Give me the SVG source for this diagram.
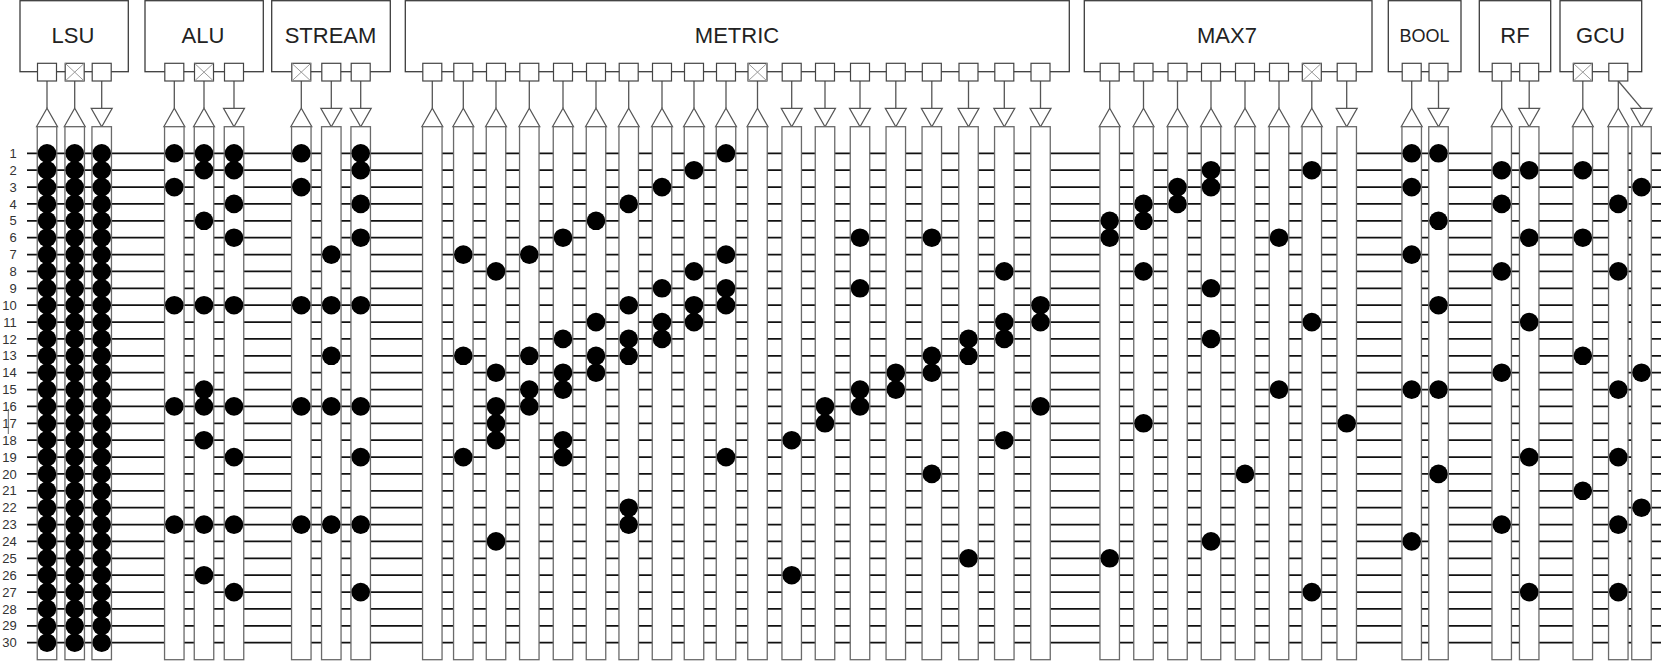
<svg xmlns="http://www.w3.org/2000/svg" width="1661" height="661" viewBox="0 0 1661 661">
<style>
.box{fill:#fff;stroke:#3c3c3c;stroke-width:1.3}
.t{font-family:"Liberation Sans",Arial,sans-serif;font-size:22px;fill:#222;text-anchor:middle}
.tb{font-family:"Liberation Sans",Arial,sans-serif;font-size:18px;fill:#222;text-anchor:middle}
.n{font-family:"Liberation Sans",Arial,sans-serif;font-size:13px;fill:#333;text-anchor:end}
.row line{stroke:#111;stroke-width:1.8}
.stub line{stroke:#555;stroke-width:1.3}
.dots circle{fill:#000}
</style>
<defs>
<rect id="bar" x="-9.75" y="126.7" width="19.5" height="533" fill="#fff" stroke="#6a6a6a" stroke-width="1.3"/>
<rect id="p" x="-9.5" y="63.3" width="19" height="17.7" fill="#fff" stroke="#444" stroke-width="1.2"/>
<g id="xp"><use href="#p"/><path d="M-9.5,63.3L9.5,81M9.5,63.3L-9.5,81" stroke="#999" stroke-width="1" fill="none"/></g>
<polygon id="up" points="-10.5,126.7 0,108.3 10.5,126.7" fill="#fff" stroke="#555" stroke-width="1.2"/>
<polygon id="dn" points="-10.5,108.3 10.5,108.3 0,126.7" fill="#fff" stroke="#555" stroke-width="1.2"/>
<g id="c30" fill="#000">
<circle cy="153.3" r="9.3"/><circle cy="170.2" r="9.3"/><circle cy="187.1" r="9.3"/><circle cy="203.9" r="9.3"/><circle cy="220.8" r="9.3"/><circle cy="237.7" r="9.3"/><circle cy="254.6" r="9.3"/><circle cy="271.4" r="9.3"/><circle cy="288.3" r="9.3"/><circle cy="305.2" r="9.3"/><circle cy="322.1" r="9.3"/><circle cy="338.9" r="9.3"/><circle cy="355.8" r="9.3"/><circle cy="372.7" r="9.3"/><circle cy="389.6" r="9.3"/><circle cy="406.4" r="9.3"/><circle cy="423.3" r="9.3"/><circle cy="440.2" r="9.3"/><circle cy="457.1" r="9.3"/><circle cy="473.9" r="9.3"/><circle cy="490.8" r="9.3"/><circle cy="507.7" r="9.3"/><circle cy="524.6" r="9.3"/><circle cy="541.4" r="9.3"/><circle cy="558.3" r="9.3"/><circle cy="575.2" r="9.3"/><circle cy="592.1" r="9.3"/><circle cy="608.9" r="9.3"/><circle cy="625.8" r="9.3"/><circle cy="642.7" r="9.3"/>
</g>
</defs>

<g id="row-labels">
<text class="n" x="16.7" y="157.9">1</text><text class="n" x="16.7" y="174.8">2</text><text class="n" x="16.7" y="191.7">3</text><text class="n" x="16.7" y="208.5">4</text><text class="n" x="16.7" y="225.4">5</text><text class="n" x="16.7" y="242.3">6</text><text class="n" x="16.7" y="259.2">7</text><text class="n" x="16.7" y="276">8</text><text class="n" x="16.7" y="292.9">9</text><text class="n" x="16.7" y="309.8">10</text><text class="n" x="16.7" y="326.7">11</text><text class="n" x="16.7" y="343.5">12</text><text class="n" x="16.7" y="360.4">13</text><text class="n" x="16.7" y="377.3">14</text><text class="n" x="16.7" y="394.2">15</text><text class="n" x="16.7" y="411">16</text><text class="n" x="16.7" y="427.9">17</text><text class="n" x="16.7" y="444.8">18</text><text class="n" x="16.7" y="461.7">19</text><text class="n" x="16.7" y="478.5">20</text><text class="n" x="16.7" y="495.4">21</text><text class="n" x="16.7" y="512.3">22</text><text class="n" x="16.7" y="529.2">23</text><text class="n" x="16.7" y="546">24</text><text class="n" x="16.7" y="562.9">25</text><text class="n" x="16.7" y="579.8">26</text><text class="n" x="16.7" y="596.7">27</text><text class="n" x="16.7" y="613.5">28</text><text class="n" x="16.7" y="630.4">29</text><text class="n" x="16.7" y="647.3">30</text>
<line x1="8.3" y1="409" x2="8.3" y2="434" stroke="#666" stroke-width="1"/>
</g>

<g id="connectors">
<g class="row">
<line x1="27" y1="153.3" x2="1661" y2="153.3"/><line x1="27" y1="170.2" x2="1661" y2="170.2"/><line x1="27" y1="187.1" x2="1661" y2="187.1"/><line x1="27" y1="203.9" x2="1661" y2="203.9"/><line x1="27" y1="220.8" x2="1661" y2="220.8"/><line x1="27" y1="237.7" x2="1661" y2="237.7"/><line x1="27" y1="254.6" x2="1661" y2="254.6"/><line x1="27" y1="271.4" x2="1661" y2="271.4"/><line x1="27" y1="288.3" x2="1661" y2="288.3"/><line x1="27" y1="305.2" x2="1661" y2="305.2"/><line x1="27" y1="322.1" x2="1661" y2="322.1"/><line x1="27" y1="338.9" x2="1661" y2="338.9"/><line x1="27" y1="355.8" x2="1661" y2="355.8"/><line x1="27" y1="372.7" x2="1661" y2="372.7"/><line x1="27" y1="389.6" x2="1661" y2="389.6"/><line x1="27" y1="406.4" x2="1661" y2="406.4"/><line x1="27" y1="423.3" x2="1661" y2="423.3"/><line x1="27" y1="440.2" x2="1661" y2="440.2"/><line x1="27" y1="457.1" x2="1661" y2="457.1"/><line x1="27" y1="473.9" x2="1661" y2="473.9"/><line x1="27" y1="490.8" x2="1661" y2="490.8"/><line x1="27" y1="507.7" x2="1661" y2="507.7"/><line x1="27" y1="524.6" x2="1661" y2="524.6"/><line x1="27" y1="541.4" x2="1661" y2="541.4"/><line x1="27" y1="558.3" x2="1661" y2="558.3"/><line x1="27" y1="575.2" x2="1661" y2="575.2"/><line x1="27" y1="592.1" x2="1661" y2="592.1"/><line x1="27" y1="608.9" x2="1661" y2="608.9"/><line x1="27" y1="625.8" x2="1661" y2="625.8"/><line x1="27" y1="642.7" x2="1661" y2="642.7"/>
</g>
<g class="stub">
<line x1="47" y1="81" x2="47" y2="108.3"/><line x1="74.7" y1="81" x2="74.7" y2="108.3"/><line x1="101.7" y1="81" x2="101.7" y2="108.3"/>
<line x1="174.3" y1="81" x2="174.3" y2="108.3"/><line x1="204" y1="81" x2="204" y2="108.3"/><line x1="234" y1="81" x2="234" y2="108.3"/>
<line x1="301.3" y1="81" x2="301.3" y2="108.3"/><line x1="331.3" y1="81" x2="331.3" y2="108.3"/><line x1="360.7" y1="81" x2="360.7" y2="108.3"/>
<line x1="432.3" y1="81" x2="432.3" y2="108.3"/><line x1="463.3" y1="81" x2="463.3" y2="108.3"/><line x1="496" y1="81" x2="496" y2="108.3"/><line x1="529.3" y1="81" x2="529.3" y2="108.3"/><line x1="563" y1="81" x2="563" y2="108.3"/><line x1="596" y1="81" x2="596" y2="108.3"/><line x1="628.7" y1="81" x2="628.7" y2="108.3"/><line x1="662" y1="81" x2="662" y2="108.3"/><line x1="694" y1="81" x2="694" y2="108.3"/><line x1="726" y1="81" x2="726" y2="108.3"/><line x1="757.5" y1="81" x2="757.5" y2="108.3"/><line x1="791.7" y1="81" x2="791.7" y2="108.3"/><line x1="825" y1="81" x2="825" y2="108.3"/><line x1="860" y1="81" x2="860" y2="108.3"/><line x1="895.8" y1="81" x2="895.8" y2="108.3"/><line x1="931.8" y1="81" x2="931.8" y2="108.3"/><line x1="968.5" y1="81" x2="968.5" y2="108.3"/><line x1="1004.3" y1="81" x2="1004.3" y2="108.3"/><line x1="1040.5" y1="81" x2="1040.5" y2="108.3"/>
<line x1="1109.7" y1="81" x2="1109.7" y2="108.3"/><line x1="1143.5" y1="81" x2="1143.5" y2="108.3"/><line x1="1177.5" y1="81" x2="1177.5" y2="108.3"/><line x1="1211" y1="81" x2="1211" y2="108.3"/><line x1="1245" y1="81" x2="1245" y2="108.3"/><line x1="1279" y1="81" x2="1279" y2="108.3"/><line x1="1311.8" y1="81" x2="1311.8" y2="108.3"/><line x1="1346.7" y1="81" x2="1346.7" y2="108.3"/>
<line x1="1411.7" y1="81" x2="1411.7" y2="108.3"/><line x1="1438.5" y1="81" x2="1438.5" y2="108.3"/>
<line x1="1501.7" y1="81" x2="1501.7" y2="108.3"/><line x1="1529.2" y1="81" x2="1529.2" y2="108.3"/>
<line x1="1582.8" y1="81" x2="1582.8" y2="108.3"/><line x1="1618.3" y1="81" x2="1618.3" y2="108.3"/><line x1="1618.3" y1="81" x2="1641.5" y2="108.3"/>
</g>
</g>

<g id="lsu">
<rect class="box" x="20" y="0.7" width="108.3" height="71"/>
<text class="t" x="73" y="43">LSU</text>
<use href="#p" x="47"/><use href="#xp" x="74.7"/><use href="#p" x="101.7"/>
<use href="#up" x="47"/><use href="#up" x="74.7"/><use href="#dn" x="101.7"/>
<use href="#bar" x="47"/><use href="#bar" x="74.7"/><use href="#bar" x="101.7"/>
<use href="#c30" x="47"/><use href="#c30" x="74.7"/><use href="#c30" x="101.7"/>
</g>

<g id="alu">
<rect class="box" x="145" y="0.7" width="118.3" height="71"/>
<text class="t" x="203" y="43">ALU</text>
<use href="#p" x="174.3"/><use href="#xp" x="204"/><use href="#p" x="234"/>
<use href="#up" x="174.3"/><use href="#up" x="204"/><use href="#dn" x="234"/>
<use href="#bar" x="174.3"/><use href="#bar" x="204"/><use href="#bar" x="234"/>
<g class="dots" transform="translate(174.3 0)"><circle cy="153.3" r="9.3"/><circle cy="187.1" r="9.3"/><circle cy="305.2" r="9.3"/><circle cy="406.4" r="9.3"/><circle cy="524.6" r="9.3"/></g>
<g class="dots" transform="translate(204 0)"><circle cy="153.3" r="9.3"/><circle cy="170.2" r="9.3"/><circle cy="220.8" r="9.3"/><circle cy="305.2" r="9.3"/><circle cy="389.6" r="9.3"/><circle cy="406.4" r="9.3"/><circle cy="440.2" r="9.3"/><circle cy="524.6" r="9.3"/><circle cy="575.2" r="9.3"/></g>
<g class="dots" transform="translate(234 0)"><circle cy="153.3" r="9.3"/><circle cy="170.2" r="9.3"/><circle cy="203.9" r="9.3"/><circle cy="237.7" r="9.3"/><circle cy="305.2" r="9.3"/><circle cy="406.4" r="9.3"/><circle cy="457.1" r="9.3"/><circle cy="524.6" r="9.3"/><circle cy="592.1" r="9.3"/></g>
</g>

<g id="stream">
<rect class="box" x="271.7" y="0.7" width="118.6" height="71"/>
<text class="t" x="330.5" y="43">STREAM</text>
<use href="#xp" x="301.3"/><use href="#p" x="331.3"/><use href="#p" x="360.7"/>
<use href="#up" x="301.3"/><use href="#dn" x="331.3"/><use href="#dn" x="360.7"/>
<use href="#bar" x="301.3"/><use href="#bar" x="331.3"/><use href="#bar" x="360.7"/>
<g class="dots" transform="translate(301.3 0)"><circle cy="153.3" r="9.3"/><circle cy="187.1" r="9.3"/><circle cy="305.2" r="9.3"/><circle cy="406.4" r="9.3"/><circle cy="524.6" r="9.3"/></g>
<g class="dots" transform="translate(331.3 0)"><circle cy="254.6" r="9.3"/><circle cy="305.2" r="9.3"/><circle cy="355.8" r="9.3"/><circle cy="406.4" r="9.3"/><circle cy="524.6" r="9.3"/></g>
<g class="dots" transform="translate(360.7 0)"><circle cy="153.3" r="9.3"/><circle cy="170.2" r="9.3"/><circle cy="203.9" r="9.3"/><circle cy="237.7" r="9.3"/><circle cy="305.2" r="9.3"/><circle cy="406.4" r="9.3"/><circle cy="457.1" r="9.3"/><circle cy="524.6" r="9.3"/><circle cy="592.1" r="9.3"/></g>
</g>

<g id="metric">
<rect class="box" x="405.3" y="0.7" width="664" height="71"/>
<text class="t" x="737" y="43">METRIC</text>
<use href="#p" x="432.3"/><use href="#p" x="463.3"/><use href="#p" x="496"/><use href="#p" x="529.3"/><use href="#p" x="563"/><use href="#p" x="596"/><use href="#p" x="628.7"/><use href="#p" x="662"/><use href="#p" x="694"/><use href="#p" x="726"/><use href="#xp" x="757.5"/><use href="#p" x="791.7"/><use href="#p" x="825"/><use href="#p" x="860"/><use href="#p" x="895.8"/><use href="#p" x="931.8"/><use href="#p" x="968.5"/><use href="#p" x="1004.3"/><use href="#p" x="1040.5"/>
<use href="#up" x="432.3"/><use href="#up" x="463.3"/><use href="#up" x="496"/><use href="#up" x="529.3"/><use href="#up" x="563"/><use href="#up" x="596"/><use href="#up" x="628.7"/><use href="#up" x="662"/><use href="#up" x="694"/><use href="#up" x="726"/><use href="#up" x="757.5"/><use href="#dn" x="791.7"/><use href="#dn" x="825"/><use href="#dn" x="860"/><use href="#dn" x="895.8"/><use href="#dn" x="931.8"/><use href="#dn" x="968.5"/><use href="#dn" x="1004.3"/><use href="#dn" x="1040.5"/>
<use href="#bar" x="432.3"/><use href="#bar" x="463.3"/><use href="#bar" x="496"/><use href="#bar" x="529.3"/><use href="#bar" x="563"/><use href="#bar" x="596"/><use href="#bar" x="628.7"/><use href="#bar" x="662"/><use href="#bar" x="694"/><use href="#bar" x="726"/><use href="#bar" x="757.5"/><use href="#bar" x="791.7"/><use href="#bar" x="825"/><use href="#bar" x="860"/><use href="#bar" x="895.8"/><use href="#bar" x="931.8"/><use href="#bar" x="968.5"/><use href="#bar" x="1004.3"/><use href="#bar" x="1040.5"/>
<g class="dots" transform="translate(463.3 0)"><circle cy="254.6" r="9.3"/><circle cy="355.8" r="9.3"/><circle cy="457.1" r="9.3"/></g>
<g class="dots" transform="translate(496 0)"><circle cy="271.4" r="9.3"/><circle cy="372.7" r="9.3"/><circle cy="406.4" r="9.3"/><circle cy="423.3" r="9.3"/><circle cy="440.2" r="9.3"/><circle cy="541.4" r="9.3"/></g>
<g class="dots" transform="translate(529.3 0)"><circle cy="254.6" r="9.3"/><circle cy="355.8" r="9.3"/><circle cy="389.6" r="9.3"/><circle cy="406.4" r="9.3"/></g>
<g class="dots" transform="translate(563 0)"><circle cy="237.7" r="9.3"/><circle cy="338.9" r="9.3"/><circle cy="372.7" r="9.3"/><circle cy="389.6" r="9.3"/><circle cy="440.2" r="9.3"/><circle cy="457.1" r="9.3"/></g>
<g class="dots" transform="translate(596 0)"><circle cy="220.8" r="9.3"/><circle cy="322.1" r="9.3"/><circle cy="355.8" r="9.3"/><circle cy="372.7" r="9.3"/></g>
<g class="dots" transform="translate(628.7 0)"><circle cy="203.9" r="9.3"/><circle cy="305.2" r="9.3"/><circle cy="338.9" r="9.3"/><circle cy="355.8" r="9.3"/><circle cy="507.7" r="9.3"/><circle cy="524.6" r="9.3"/></g>
<g class="dots" transform="translate(662 0)"><circle cy="187.1" r="9.3"/><circle cy="288.3" r="9.3"/><circle cy="322.1" r="9.3"/><circle cy="338.9" r="9.3"/></g>
<g class="dots" transform="translate(694 0)"><circle cy="170.2" r="9.3"/><circle cy="271.4" r="9.3"/><circle cy="305.2" r="9.3"/><circle cy="322.1" r="9.3"/></g>
<g class="dots" transform="translate(726 0)"><circle cy="153.3" r="9.3"/><circle cy="254.6" r="9.3"/><circle cy="288.3" r="9.3"/><circle cy="305.2" r="9.3"/><circle cy="457.1" r="9.3"/></g>
<g class="dots" transform="translate(791.7 0)"><circle cy="440.2" r="9.3"/><circle cy="575.2" r="9.3"/></g>
<g class="dots" transform="translate(825 0)"><circle cy="406.4" r="9.3"/><circle cy="423.3" r="9.3"/></g>
<g class="dots" transform="translate(860 0)"><circle cy="237.7" r="9.3"/><circle cy="288.3" r="9.3"/><circle cy="389.6" r="9.3"/><circle cy="406.4" r="9.3"/></g>
<g class="dots" transform="translate(895.8 0)"><circle cy="372.7" r="9.3"/><circle cy="389.6" r="9.3"/></g>
<g class="dots" transform="translate(931.8 0)"><circle cy="237.7" r="9.3"/><circle cy="355.8" r="9.3"/><circle cy="372.7" r="9.3"/><circle cy="473.9" r="9.3"/></g>
<g class="dots" transform="translate(968.5 0)"><circle cy="338.9" r="9.3"/><circle cy="355.8" r="9.3"/><circle cy="558.3" r="9.3"/></g>
<g class="dots" transform="translate(1004.3 0)"><circle cy="271.4" r="9.3"/><circle cy="322.1" r="9.3"/><circle cy="338.9" r="9.3"/><circle cy="440.2" r="9.3"/></g>
<g class="dots" transform="translate(1040.5 0)"><circle cy="305.2" r="9.3"/><circle cy="322.1" r="9.3"/><circle cy="406.4" r="9.3"/></g>
</g>

<g id="max7">
<rect class="box" x="1084.3" y="0.7" width="287.7" height="71"/>
<text class="t" x="1227" y="43">MAX7</text>
<use href="#p" x="1109.7"/><use href="#p" x="1143.5"/><use href="#p" x="1177.5"/><use href="#p" x="1211"/><use href="#p" x="1245"/><use href="#p" x="1279"/><use href="#xp" x="1311.8"/><use href="#p" x="1346.7"/>
<use href="#up" x="1109.7"/><use href="#up" x="1143.5"/><use href="#up" x="1177.5"/><use href="#up" x="1211"/><use href="#up" x="1245"/><use href="#up" x="1279"/><use href="#up" x="1311.8"/><use href="#dn" x="1346.7"/>
<use href="#bar" x="1109.7"/><use href="#bar" x="1143.5"/><use href="#bar" x="1177.5"/><use href="#bar" x="1211"/><use href="#bar" x="1245"/><use href="#bar" x="1279"/><use href="#bar" x="1311.8"/><use href="#bar" x="1346.7"/>
<g class="dots" transform="translate(1109.7 0)"><circle cy="220.8" r="9.3"/><circle cy="237.7" r="9.3"/><circle cy="558.3" r="9.3"/></g>
<g class="dots" transform="translate(1143.5 0)"><circle cy="203.9" r="9.3"/><circle cy="220.8" r="9.3"/><circle cy="271.4" r="9.3"/><circle cy="423.3" r="9.3"/></g>
<g class="dots" transform="translate(1177.5 0)"><circle cy="187.1" r="9.3"/><circle cy="203.9" r="9.3"/></g>
<g class="dots" transform="translate(1211 0)"><circle cy="170.2" r="9.3"/><circle cy="187.1" r="9.3"/><circle cy="288.3" r="9.3"/><circle cy="338.9" r="9.3"/><circle cy="541.4" r="9.3"/></g>
<g class="dots" transform="translate(1245 0)"><circle cy="473.9" r="9.3"/></g>
<g class="dots" transform="translate(1279 0)"><circle cy="237.7" r="9.3"/><circle cy="389.6" r="9.3"/></g>
<g class="dots" transform="translate(1311.8 0)"><circle cy="170.2" r="9.3"/><circle cy="322.1" r="9.3"/><circle cy="592.1" r="9.3"/></g>
<g class="dots" transform="translate(1346.7 0)"><circle cy="423.3" r="9.3"/></g>
</g>

<g id="bool">
<rect class="box" x="1388.3" y="0.7" width="72.7" height="71"/>
<text class="tb" x="1424.5" y="41.7">BOOL</text>
<use href="#p" x="1411.7"/><use href="#p" x="1438.5"/>
<use href="#up" x="1411.7"/><use href="#dn" x="1438.5"/>
<use href="#bar" x="1411.7"/><use href="#bar" x="1438.5"/>
<g class="dots" transform="translate(1411.7 0)"><circle cy="153.3" r="9.3"/><circle cy="187.1" r="9.3"/><circle cy="254.6" r="9.3"/><circle cy="389.6" r="9.3"/><circle cy="541.4" r="9.3"/></g>
<g class="dots" transform="translate(1438.5 0)"><circle cy="153.3" r="9.3"/><circle cy="220.8" r="9.3"/><circle cy="305.2" r="9.3"/><circle cy="389.6" r="9.3"/><circle cy="473.9" r="9.3"/></g>
</g>

<g id="rf">
<rect class="box" x="1479.3" y="0.7" width="71.4" height="71"/>
<text class="t" x="1515" y="43">RF</text>
<use href="#p" x="1501.7"/><use href="#p" x="1529.2"/>
<use href="#up" x="1501.7"/><use href="#dn" x="1529.2"/>
<use href="#bar" x="1501.7"/><use href="#bar" x="1529.2"/>
<g class="dots" transform="translate(1501.7 0)"><circle cy="170.2" r="9.3"/><circle cy="203.9" r="9.3"/><circle cy="271.4" r="9.3"/><circle cy="372.7" r="9.3"/><circle cy="524.6" r="9.3"/></g>
<g class="dots" transform="translate(1529.2 0)"><circle cy="170.2" r="9.3"/><circle cy="237.7" r="9.3"/><circle cy="322.1" r="9.3"/><circle cy="457.1" r="9.3"/><circle cy="592.1" r="9.3"/></g>
</g>

<g id="gcu">
<rect class="box" x="1560" y="0.7" width="81.7" height="71"/>
<text class="t" x="1600.5" y="43">GCU</text>
<use href="#xp" x="1582.8"/><use href="#p" x="1618.3"/>
<use href="#up" x="1582.8"/><use href="#up" x="1618.3"/><use href="#dn" x="1641.5"/>
<use href="#bar" x="1582.8"/><use href="#bar" x="1618.3"/><use href="#bar" x="1641.5"/>
<g class="dots" transform="translate(1582.8 0)"><circle cy="170.2" r="9.3"/><circle cy="237.7" r="9.3"/><circle cy="355.8" r="9.3"/><circle cy="490.8" r="9.3"/></g>
<g class="dots" transform="translate(1618.3 0)"><circle cy="203.9" r="9.3"/><circle cy="271.4" r="9.3"/><circle cy="389.6" r="9.3"/><circle cy="457.1" r="9.3"/><circle cy="524.6" r="9.3"/><circle cy="592.1" r="9.3"/></g>
<g class="dots" transform="translate(1641.5 0)"><circle cy="187.1" r="9.3"/><circle cy="372.7" r="9.3"/><circle cy="507.7" r="9.3"/></g>
</g>
</svg>
